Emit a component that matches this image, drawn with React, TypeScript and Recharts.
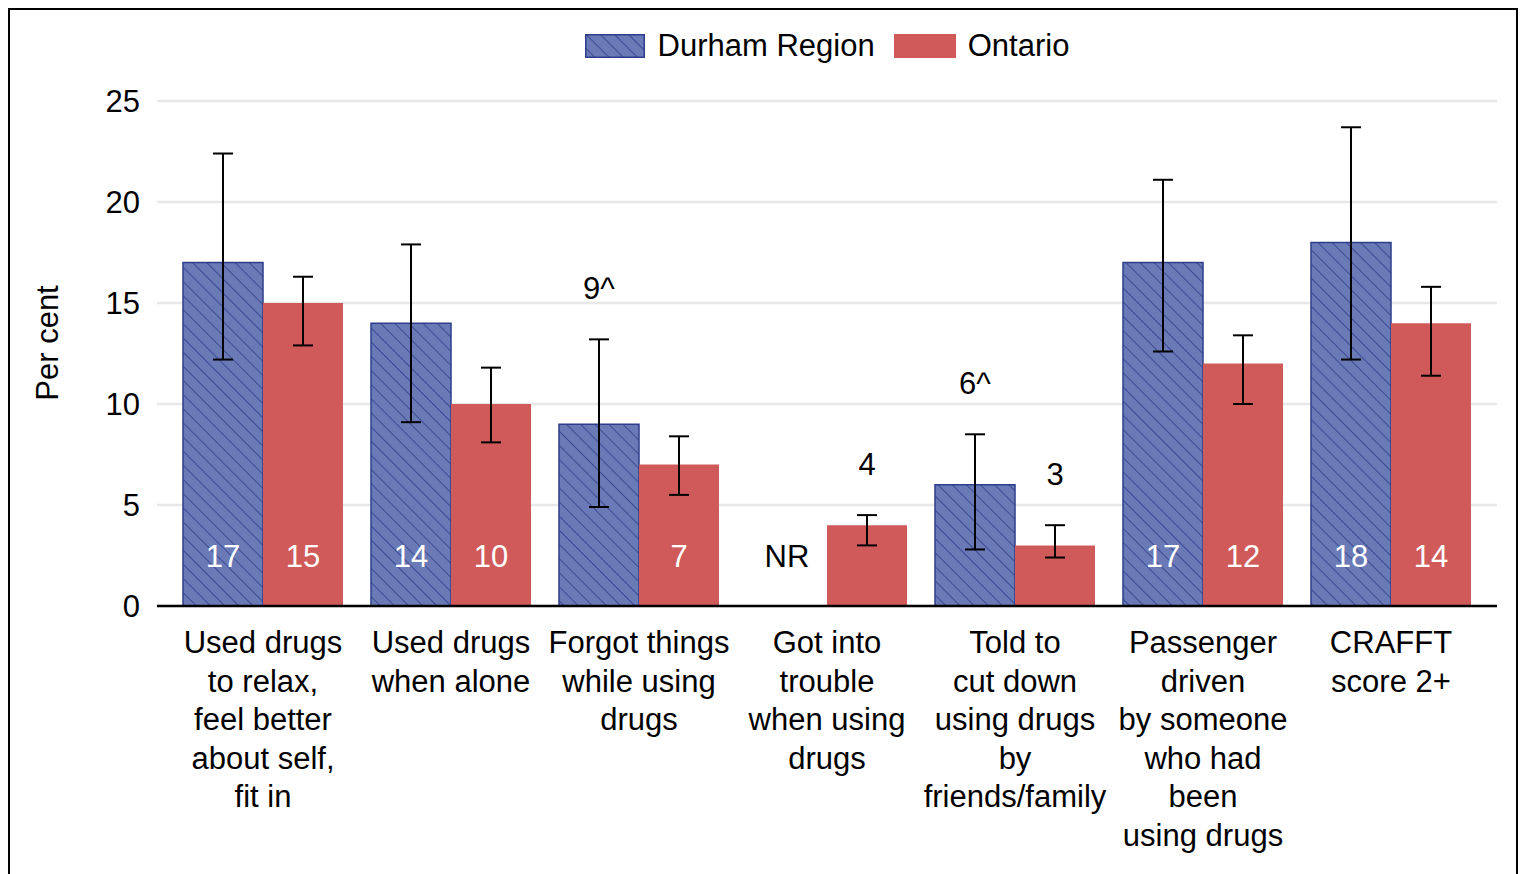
import React from 'react';
import { BarChart, Bar, XAxis, YAxis, CartesianGrid, ErrorBar, LabelList, Label } from 'recharts';

const CATEGORIES = [
  'Used drugs\nto relax,\nfeel better\nabout self,\nfit in',
  'Used drugs\nwhen alone',
  'Forgot things\nwhile using\ndrugs',
  'Got into\ntrouble\nwhen using\ndrugs',
  'Told to\ncut down\nusing drugs\nby\nfriends/family',
  'Passenger\ndriven\nby someone\nwho had\nbeen\nusing drugs',
  'CRAFFT\nscore 2+',
];

// null = NR (not reportable)
const DURHAM = [17, 14, 9, null, 6, 17, 18];
const DURHAM_LOW = [12.2, 9.1, 4.9, null, 2.8, 12.6, 12.2];
const DURHAM_HIGH = [22.4, 17.9, 13.2, null, 8.5, 21.1, 23.7];
// ^ interpret with caution
const DURHAM_FLAG = [false, false, true, false, true, false, false];

const ONTARIO = [15, 10, 7, 4, 3, 12, 14];
const ONTARIO_LOW = [12.9, 8.1, 5.5, 3.0, 2.4, 10.0, 11.4];
const ONTARIO_HIGH = [16.3, 11.8, 8.4, 4.5, 4.0, 13.4, 15.8];

const Y_TICKS = [0, 5, 10, 15, 20, 25];

const data = CATEGORIES.map((cat, i) => ({
  cat,
  durham: DURHAM[i],
  durErr: DURHAM[i] == null ? null : [DURHAM[i] - DURHAM_LOW[i], DURHAM_HIGH[i] - DURHAM[i]],
  ontario: ONTARIO[i],
  onErr: [ONTARIO[i] - ONTARIO_LOW[i], ONTARIO_HIGH[i] - ONTARIO[i]],
}));

const FONT = '"Liberation Sans", Arial, sans-serif';
const BLUE = '#6A7AB6';
const NAVY = '#2F3E8C';
const RED = '#D05A5A';

function CategoryTick({ x, y, payload }: any) {
  const lines = String(payload.value).split('\n');
  return (
    <text x={x} y={y} textAnchor="middle" fontSize={31} fill="#000" fontFamily={FONT}>
      {lines.map((l, i) => (
        <tspan key={i} x={x} dy={i === 0 ? 47 : 38.5}>
          {l}
        </tspan>
      ))}
    </text>
  );
}

// LabelList gets the category as its value, so the index is looked up from it
function makeLabel(values: (number | null)[], highs: (number | null)[], flags: boolean[] | null, showNR: boolean) {
  return (props: any) => {
    const { x, y, width, height } = props;
    const index = CATEGORIES.indexOf(props.value);
    const v = values[index];
    const out: React.ReactNode[] = [];
    if (showNR && DURHAM[index] == null) {
      out.push(
        <text key="nr" x={x - width / 2} y={y + height - 50} textAnchor="middle" dominantBaseline="central" fontSize={31} fill="#000" fontFamily={FONT}>
          NR
        </text>
      );
    }
    if (v == null || index < 0) return <g>{out}</g>;
    const base = y + height;
    const perUnit = height / v;
    const flagged = flags ? flags[index] : false;
    const txt = `${v}${flagged ? '^' : ''}`;
    if (flagged || v < 5) {
      const yHigh = base - (highs[index] as number) * perUnit;
      out.push(
        <text key="v" x={x + width / 2} y={yHigh - 51} textAnchor="middle" dominantBaseline="central" fontSize={31} fill="#000" fontFamily={FONT}>
          {txt}
        </text>
      );
    } else {
      out.push(
        <text key="v" x={x + width / 2} y={base - 50} textAnchor="middle" dominantBaseline="central" fontSize={31} fill="#fff" fontFamily={FONT}>
          {txt}
        </text>
      );
    }
    return <g>{out}</g>;
  };
}

function HatchDefs({ id }: { id: string }) {
  return (
    <defs>
      <pattern id={id} patternUnits="userSpaceOnUse" width={10} height={10} patternTransform="rotate(-45)">
        <rect width={10} height={10} fill={BLUE} />
        <line x1={0} y1={0} x2={0} y2={10} stroke={NAVY} strokeWidth={1.6} />
      </pattern>
    </defs>
  );
}

export default function App() {
  return (
    <div
      style={{
        position: 'fixed',
        left: 8,
        top: 8,
        width: 1506,
        height: 876,
        border: '2px solid #000',
        fontFamily: FONT,
        background: '#fff',
      }}
    >
      <div
        style={{
          position: 'absolute',
          left: 147,
          width: 1340,
          top: 18,
          height: 36,
          display: 'flex',
          justifyContent: 'center',
          alignItems: 'center',
          fontSize: 31,
          color: '#000',
        }}
      >
        <svg width={60} height={24} style={{ marginRight: 13 }}>
          <HatchDefs id="hatchLegend" />
          <rect x={0.75} y={0.75} width={58.5} height={22.5} fill="url(#hatchLegend)" stroke={NAVY} strokeWidth={1.5} />
        </svg>
        <span style={{ marginRight: 19 }}>Durham Region</span>
        <svg width={62} height={24} style={{ marginRight: 12 }}>
          <rect x={0} y={0} width={62} height={24} fill={RED} />
        </svg>
        <span>Ontario</span>
      </div>
      <BarChart
        width={1506}
        height={876}
        data={data}
        margin={{ top: 91, right: 19, left: 67, bottom: 10 }}
        barSize={80}
        barGap={0}
      >
        <HatchDefs id="hatchBar" />
        <CartesianGrid vertical={false} stroke="#E8E8E8" strokeWidth={2.5} />
        <XAxis
          dataKey="cat"
          interval={0}
          height={270}
          tick={<CategoryTick />}
          tickLine={false}
          tickSize={0}
          tickMargin={0}
          axisLine={{ stroke: '#000', strokeWidth: 2.5 }}
          padding={{ left: 12, right: 12 }}
        />
        <YAxis
          domain={[0, 25]}
          ticks={Y_TICKS}
          width={80}
          axisLine={false}
          tickLine={false}
          tickSize={0}
          tickMargin={17}
          tick={{ fontSize: 31, fill: '#000', fontFamily: FONT }}
        >
          <Label
            content={() => (
              <text x={37} y={333} transform="rotate(-90 37 333)" textAnchor="middle" dominantBaseline="central" fontSize={31} fill="#000" fontFamily={FONT}>
                Per cent
              </text>
            )}
          />
        </YAxis>
        <Bar dataKey="durham" fill="url(#hatchBar)" stroke={NAVY} strokeWidth={1.5} isAnimationActive={false}>
          <ErrorBar dataKey="durErr" width={10} stroke="#000" strokeWidth={2} />
          <LabelList dataKey="cat" content={makeLabel(DURHAM, DURHAM_HIGH, DURHAM_FLAG, false)} />
        </Bar>
        <Bar dataKey="ontario" fill={RED} isAnimationActive={false}>
          <ErrorBar dataKey="onErr" width={10} stroke="#000" strokeWidth={2} />
          <LabelList dataKey="cat" content={makeLabel(ONTARIO, ONTARIO_HIGH, null, true)} />
        </Bar>
      </BarChart>
    </div>
  );
}
